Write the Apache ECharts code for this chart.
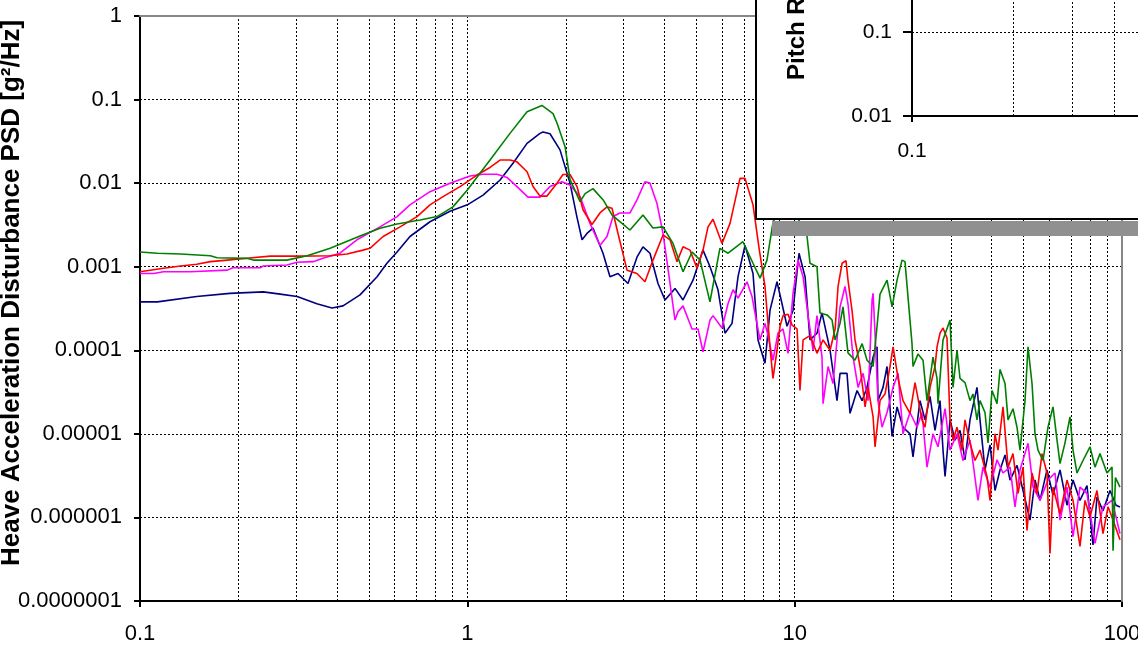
<!DOCTYPE html>
<html>
<head>
<meta charset="utf-8">
<title>Heave acceleration disturbance PSD</title>
<script src="https://cdn.jsdelivr.net/npm/echarts@6/dist/echarts.min.js"></script>
<style>
    html, body { margin: 0; padding: 0; background: #fff; }
    #chart { width: 1138px; height: 645px; }
</style>
</head>
<body>
<div id="chart"></div>
<script>
    "use strict";

    // tick labels (one per decade)
    var xTickLabels = ['0.1', '1', '10', '100'];
    var yTickLabels = ['0.0000001', '0.000001', '0.00001', '0.0001', '0.001', '0.01', '0.1', '1'];
    var insetXTickLabels = ['0.1', '1', '10'];
    var insetYTickLabels = ['0.01', '0.1', '1'];

    // minor vertical grid positions
    var minorGrid = [0.2, 0.3, 0.4, 0.5, 0.6, 0.7, 0.8, 0.9, 2, 3, 4, 5, 6, 7, 8, 9, 20, 30, 40, 50, 60, 70, 80, 90];
    var insetMinorGrid = [0.2, 0.3, 0.4, 0.5, 0.6, 0.7, 0.8, 0.9];

    // [frequency Hz, PSD g^2/Hz]
    var psdNavy = [
        [0.1, 3.8e-4], [0.113, 3.8e-4], [0.149, 4.4e-4], [0.188, 4.8e-4], [0.238, 5.0e-4],
        [0.268, 4.7e-4], [0.302, 4.4e-4], [0.347, 3.6e-4], [0.386, 3.2e-4], [0.417, 3.4e-4],
        [0.47, 4.6e-4], [0.53, 7.6e-4], [0.568, 1.1e-3], [0.61, 1.5e-3], [0.668, 2.3e-3],
        [0.769, 3.45e-3], [0.885, 4.6e-3], [1.0, 5.5e-3], [1.117, 7.2e-3], [1.259, 0.0109],
        [1.379, 0.0173], [1.522, 0.0299], [1.667, 0.0394], [1.703, 0.041], [1.789, 0.039],
        [1.919, 0.025], [2.059, 0.01], [2.163, 3.9e-3], [2.241, 2.1e-3], [2.32, 2.5e-3],
        [2.42, 2.9e-3], [2.597, 1.45e-3], [2.728, 7.6e-4], [2.886, 8.3e-4], [3.096, 6.3e-4],
        [3.298, 1.3e-3], [3.44, 1.73e-3], [3.614, 1.45e-3], [3.824, 6.3e-4], [4.017, 4e-4],
        [4.31, 5.5e-4], [4.56, 4e-4], [4.891, 6.9e-4], [5.248, 1.58e-3], [5.513, 1e-3],
        [5.832, 5.3e-4], [6.126, 1.6e-4], [6.436, 2.1e-4], [6.714, 7.6e-4], [7.052, 1.8e-3],
        [7.46, 8.3e-4], [7.727, 1.33e-4], [8.116, 7e-5], [8.406, 3e-4], [8.831, 6.6e-4],
        [9.148, 3.6e-4], [9.477, 1.94e-4], [9.885, 3e-4], [10.31, 1.45e-3], [10.76, 7.6e-4],
        [11.14, 1.33e-4], [11.7, 1.6e-4], [12.12, 2.8e-4], [12.83, 1e-4], [13.47, 2.5e-5],
        [13.76, 5.3e-5], [14.45, 5.3e-5], [14.76, 1.76e-5], [15.51, 3.3e-5], [16.07, 2.5e-5],
        [16.64, 3.6e-5], [17.36, 8.3e-5], [17.85, 1.1e-4], [17.97, 2.5e-5], [18.62, 3.6e-5],
        [19.15, 6.4e-5], [19.84, 9.3e-6], [20.55, 2.1e-5], [21.43, 1.2e-5], [22.51, 1e-5],
        [22.99, 5.3e-6], [24.15, 2.5e-5], [25.02, 1.47e-5], [25.91, 2.8e-5], [26.84, 1.1e-5],
        [27.8, 2.5e-5], [28.39, 6.4e-6], [28.8, 3.1e-6], [29.83, 1.47e-5], [30.89, 8.4e-6],
        [32.0, 1.1e-5], [33.14, 4.9e-6], [34.33, 1.47e-5], [36.06, 3.6e-5], [36.83, 1.47e-5],
        [38.15, 3.7e-6], [39.52, 7.4e-6], [40.93, 2.1e-6], [42.4, 3.7e-6], [43.92, 5.6e-6],
        [45.49, 2.8e-6], [47.78, 4.2e-6], [49.85, 2.1e-6], [52.36, 9.3e-7], [54.23, 2.8e-6],
        [56.17, 1.6e-6], [59.0, 3.7e-6], [61.55, 1.85e-6], [64.66, 3.7e-6], [67.92, 1.4e-6],
        [70.85, 2.8e-6], [74.41, 1.6e-6], [78.17, 2.4e-6], [81.54, 4.7e-7], [83.87, 1.75e-6],
        [87.5, 1.2e-6], [91.92, 2.1e-6], [95.9, 1.4e-6], [98.6, 1.33e-6]
    ];

    var psdMagenta = [
        [0.1, 8.3e-4], [0.11, 8.3e-4], [0.118, 8.7e-4], [0.142, 8.7e-4], [0.185, 9.1e-4],
        [0.192, 9.7e-4], [0.233, 9.7e-4], [0.238, 1.02e-3], [0.281, 1.05e-3], [0.302, 1.13e-3],
        [0.338, 1.15e-3], [0.362, 1.26e-3], [0.408, 1.45e-3], [0.46, 2.1e-3], [0.541, 3.0e-3],
        [0.61, 3.98e-3], [0.668, 5.5e-3], [0.769, 7.9e-3], [0.885, 0.01], [1.019, 0.0122],
        [1.117, 0.0128], [1.232, 0.0128], [1.322, 0.0117], [1.418, 9.1e-3], [1.532, 6.8e-3],
        [1.667, 6.8e-3], [1.789, 9.1e-3], [1.946, 0.0104], [2.059, 9.5e-3], [2.21, 6.9e-3],
        [2.37, 3.3e-3], [2.542, 1.8e-3], [2.671, 2.3e-3], [2.786, 3.98e-3], [2.927, 4.4e-3],
        [3.14, 4.4e-3], [3.298, 6.3e-3], [3.489, 0.0104], [3.614, 0.01], [3.797, 5.7e-3],
        [3.961, 2.5e-3], [4.161, 6.3e-4], [4.31, 2.3e-4], [4.402, 2.9e-4], [4.56, 3.4e-4],
        [4.857, 1.8e-4], [5.066, 1.8e-4], [5.248, 9.6e-5], [5.513, 2.3e-4], [5.63, 2.6e-4],
        [5.998, 1.85e-4], [6.257, 3.6e-4], [6.481, 5.3e-4], [6.714, 4.2e-4], [7.152, 6.6e-4],
        [7.408, 4.4e-4], [7.565, 2.8e-4], [7.836, 1.33e-4], [8.116, 2.1e-4], [8.289, 1.5e-4],
        [8.586, 7.6e-5], [8.893, 1.6e-4], [9.213, 1.8e-4], [9.544, 9.2e-5], [9.885, 4.8e-4],
        [10.24, 1.2e-3], [10.61, 7.6e-4], [10.99, 2.6e-4], [11.38, 1e-4], [11.7, 2.6e-4],
        [12.12, 8.3e-5], [12.21, 2.3e-5], [12.65, 6.4e-5], [13.1, 4e-5], [13.76, 3.3e-4],
        [14.25, 5.8e-4], [14.55, 3.6e-4], [15.08, 8.3e-5], [15.62, 3.6e-5], [16.18, 5.3e-5],
        [16.76, 2.5e-5], [17.24, 4e-4], [17.36, 4.8e-4], [17.6, 1.6e-4], [17.97, 2.5e-5],
        [18.49, 1.2e-5], [19.15, 1.8e-5], [19.98, 3.6e-5], [20.7, 5.3e-5], [21.43, 1e-5],
        [22.51, 1.8e-5], [23.65, 1.2e-5], [24.49, 1.8e-5], [25.37, 4e-6], [26.46, 1e-5],
        [27.41, 7e-6], [28.8, 2e-5], [29.83, 6.4e-6], [31.33, 1e-5], [32.68, 4.8e-6],
        [34.33, 8.4e-6], [36.31, 1.6e-6], [37.61, 4e-6], [39.52, 2.3e-6], [41.51, 4.9e-6],
        [43.3, 3.4e-6], [45.49, 4e-6], [47.11, 1.34e-6], [48.8, 3.7e-6], [51.63, 7.7e-6],
        [53.48, 2.3e-6], [56.17, 1.6e-6], [59.42, 2.8e-6], [62.42, 3.4e-6], [64.66, 9.3e-7],
        [67.92, 2.3e-6], [70.85, 5.9e-7], [74.41, 2.3e-6], [78.17, 1.94e-6], [82.69, 4.9e-7],
        [87.5, 1.34e-6], [93.22, 1.6e-6], [98.6, 6.4e-7]
    ];

    var psdRed = [
        [0.1, 8.7e-4], [0.118, 9.6e-4], [0.133, 1.02e-3], [0.149, 1.07e-3], [0.164, 1.15e-3],
        [0.185, 1.2e-3], [0.212, 1.26e-3], [0.25, 1.34e-3], [0.302, 1.34e-3], [0.381, 1.35e-3],
        [0.429, 1.42e-3], [0.48, 1.58e-3], [0.504, 1.66e-3], [0.553, 2.3e-3], [0.623, 3.0e-3],
        [0.702, 3.98e-3], [0.769, 5.5e-3], [0.843, 6.9e-3], [0.95, 9.1e-3], [1.07, 0.0125],
        [1.173, 0.0154], [1.259, 0.0189], [1.35, 0.0189], [1.418, 0.018], [1.522, 0.0137],
        [1.587, 9.1e-3], [1.667, 7e-3], [1.751, 7e-3], [1.879, 0.01], [1.96, 0.0127],
        [2.059, 0.0127], [2.163, 9.1e-3], [2.256, 4.8e-3], [2.403, 3.2e-3], [2.542, 4.4e-3],
        [2.671, 5.2e-3], [2.767, 5.0e-3], [2.886, 2.5e-3], [3.075, 9.1e-4], [3.298, 8.3e-4],
        [3.489, 6.6e-4], [3.692, 1.2e-3], [3.961, 2.4e-3], [4.161, 2.1e-3], [4.371, 1.15e-3],
        [4.56, 1.73e-3], [4.789, 1.58e-3], [5.031, 9.6e-4], [5.248, 1.58e-3], [5.436, 3e-3],
        [5.63, 3.7e-3], [5.998, 1.9e-3], [6.346, 3.3e-3], [6.808, 0.0114], [7.052, 0.0114],
        [7.46, 5.5e-3], [7.8, 1.58e-3], [8.116, 5.8e-4], [8.406, 1.1e-4], [8.586, 4.6e-5],
        [8.831, 1e-4], [9.021, 1.94e-4], [9.213, 2.6e-4], [9.544, 2.7e-4], [9.815, 2.0e-4],
        [10.17, 1.8e-4], [10.38, 3.3e-5], [10.61, 1.33e-4], [11.14, 1.5e-4], [11.7, 9.2e-5],
        [12.21, 1.33e-4], [12.83, 1e-4], [13.29, 1.8e-4], [13.57, 5.8e-4], [13.96, 1.1e-3],
        [14.35, 1.18e-3], [14.55, 6.9e-4], [14.97, 3e-4], [15.29, 1.33e-4], [15.84, 6.4e-5],
        [16.41, 2.1e-5], [16.76, 3.6e-5], [17.36, 1.6e-5], [17.6, 7e-6], [18.23, 2.5e-5],
        [18.88, 3e-5], [19.56, 6.4e-5], [19.98, 1.1e-4], [20.7, 4.6e-5], [21.43, 2.5e-5],
        [22.51, 1.76e-5], [23.32, 4.1e-5], [24.49, 1.47e-5], [25.02, 1.2e-5], [25.91, 3.6e-5],
        [26.84, 6.4e-5], [27.22, 1.1e-4], [27.8, 1.6e-4], [28.39, 1.85e-4], [29.2, 1.4e-4],
        [29.83, 1.47e-5], [30.46, 8.4e-6], [31.33, 1.2e-5], [32.45, 6.4e-6], [33.14, 1.47e-5],
        [34.33, 7.8e-6], [35.56, 4.8e-6], [36.83, 6.4e-6], [38.69, 3.1e-6], [39.52, 1.6e-6],
        [40.93, 1e-5], [41.8, 6.4e-6], [43.3, 2.1e-5], [44.86, 4e-6], [46.45, 5.8e-6],
        [48.12, 1.94e-6], [49.85, 4e-6], [51.27, 7e-7], [53.1, 3.4e-6], [55.0, 1.94e-6],
        [56.97, 5.8e-6], [59.0, 3.4e-6], [60.26, 3.7e-7], [61.55, 2.3e-6], [64.66, 1.1e-6],
        [67.92, 2.8e-6], [70.85, 1.6e-6], [74.41, 4.5e-7], [77.08, 1.6e-6], [79.84, 1.02e-6],
        [83.87, 2.1e-6], [87.5, 6.4e-7], [90.63, 1.34e-6], [93.88, 9.3e-7], [98.6, 5.4e-7]
    ];

    var psdGreen = [
        [0.1, 1.5e-3], [0.113, 1.45e-3], [0.133, 1.42e-3], [0.164, 1.35e-3], [0.172, 1.28e-3],
        [0.212, 1.26e-3], [0.222, 1.2e-3], [0.281, 1.2e-3], [0.324, 1.35e-3], [0.381, 1.66e-3],
        [0.47, 2.33e-3], [0.541, 2.88e-3], [0.61, 3.24e-3], [0.717, 3.62e-3], [0.808, 3.98e-3],
        [0.904, 5.2e-3], [1.0, 8.3e-3], [1.173, 0.0189], [1.35, 0.0394], [1.522, 0.0715],
        [1.69, 0.085], [1.827, 0.068], [1.88, 0.052], [1.99, 0.027], [2.06, 0.011],
        [2.21, 6.0e-3], [2.29, 7.5e-3], [2.42, 8.6e-3], [2.60, 6.3e-3], [2.77, 4.15e-3],
        [2.93, 3.45e-3], [3.14, 2.75e-3], [3.44, 4.15e-3], [3.69, 2.9e-3], [3.96, 3.0e-3],
        [4.25, 1.9e-3], [4.56, 8.7e-4], [4.86, 1.5e-3], [5.14, 1.2e-3], [5.51, 3.8e-4],
        [5.91, 1.66e-3], [6.26, 1.45e-3], [6.95, 1.99e-3], [7.46, 1.1e-3], [7.84, 7.3e-4],
        [8.23, 1.2e-3], [8.6, 3.5e-3], [9.2, 5e-3], [10.0, 4.5e-3], [10.91, 2.3e-3],
        [11.14, 1.1e-3], [11.70, 1.0e-3], [11.95, 2.8e-4], [12.56, 2.65e-4], [13.01, 2.3e-4],
        [13.29, 1.33e-4], [13.76, 2.1e-4], [14.05, 3.3e-4], [14.55, 9.3e-5], [15.29, 7.6e-5],
        [16.07, 1.2e-4], [16.64, 7.6e-5], [17.36, 6.4e-5], [17.85, 1.94e-4], [18.23, 4.7e-4],
        [19.15, 6.9e-4], [19.84, 3.3e-4], [20.55, 6.9e-4], [21.28, 1.2e-3], [21.73, 1.15e-3],
        [22.20, 4.3e-4], [22.83, 1.2e-4], [22.99, 6.4e-5], [23.8, 9e-5], [24.67, 7.6e-5],
        [25.37, 2.5e-5], [26.46, 8.3e-5], [27.22, 4.6e-5], [27.41, 2.3e-5], [28.39, 1.33e-4],
        [29.83, 2.3e-4], [30.46, 3.6e-5], [31.33, 1e-4], [32.0, 4.6e-5], [33.14, 4.1e-5],
        [34.33, 2.5e-5], [35.06, 3.0e-5], [36.06, 1.47e-5], [36.83, 2.5e-5], [38.15, 1.8e-5],
        [38.96, 7.8e-6], [40.08, 3.3e-5], [41.51, 2.3e-5], [42.40, 5.9e-5], [43.92, 4.0e-5],
        [44.86, 1.47e-5], [46.45, 2.0e-5], [47.78, 1.2e-5], [48.80, 6.4e-6], [50.55, 2.5e-5],
        [51.63, 1.1e-4], [53.10, 4e-5], [54.23, 1e-5], [55.39, 6.4e-6], [57.37, 4.8e-6],
        [59.42, 1.2e-5], [61.55, 2.1e-5], [63.31, 8.4e-6], [64.66, 4.4e-6], [66.97, 7.8e-6],
        [69.37, 1.6e-5], [70.85, 6.4e-6], [72.87, 3.4e-6], [76.0, 4.8e-6], [79.84, 7e-6],
        [82.69, 4e-6], [85.65, 5.8e-6], [89.99, 3.4e-6], [93.22, 4e-6], [93.88, 4e-7],
        [95.5, 3e-6], [98.6, 2.3e-6]
    ];

    var FONT = 'Arial, "Liberation Sans", sans-serif';
    var dotted = {color: '#000', width: 1, type: [2, 2]};

    function decadeLabel(labels, firstExp) {
        return function (v) {
            return labels[Math.round(Math.log(v) / Math.LN10) - firstExp] || '';
        };
    }

    function psdLine(name, data, color) {
        return {
            name: name,
            type: 'line',
            data: data,
            symbol: 'none',
            showSymbol: false,
            z: 3,
            lineStyle: {color: color, width: 1.6},
            itemStyle: {color: color}
        };
    }

    function gridLines(values, xIdx, yIdx, z) {
        return {
            type: 'line',
            xAxisIndex: xIdx,
            yAxisIndex: yIdx,
            data: [],
            z: z,
            silent: true,
            markLine: {
                z: z,
                silent: true,
                symbol: 'none',
                label: {show: false},
                lineStyle: dotted,
                data: values.map(function (v) { return {xAxis: v}; })
            }
        };
    }

    var chart = echarts.init(document.getElementById('chart'));
    chart.setOption({
        animation: false,
        backgroundColor: '#fff',
        grid: [
            {left: 140, right: 16, top: 16, bottom: 44, outerBoundsMode: 'none', containLabel: false},
            {left: 912, top: -52, width: 672, height: 168, outerBoundsMode: 'none', containLabel: false}
        ],
        xAxis: [
            {
                type: 'log', gridIndex: 0, min: 0.1, max: 100, position: 'bottom',
                axisLine: {lineStyle: {color: '#000', width: 2}},
                axisTick: {length: 6, lineStyle: {color: '#000', width: 2}},
                axisLabel: {formatter: decadeLabel(xTickLabels, -1), fontSize: 22, color: '#000', fontFamily: FONT, margin: 22},
                splitLine: {show: true, lineStyle: dotted}
            },
            {
                type: 'log', gridIndex: 0, min: 0.1, max: 100, position: 'top', z: 1,
                axisLine: {lineStyle: {color: '#888', width: 2}},
                axisTick: {show: false}, axisLabel: {show: false}, splitLine: {show: false}
            },
            {
                type: 'log', gridIndex: 1, min: 0.1, max: 10, z: 60,
                axisLine: {lineStyle: {color: '#000', width: 2}},
                axisTick: {length: 6, lineStyle: {color: '#000', width: 2}},
                axisLabel: {formatter: decadeLabel(insetXTickLabels, -1), fontSize: 21, color: '#000', fontFamily: FONT, margin: 25},
                splitLine: {show: true, lineStyle: dotted}
            }
        ],
        yAxis: [
            {
                type: 'log', gridIndex: 0, min: 1e-7, max: 1, position: 'left',
                axisLine: {lineStyle: {color: '#000', width: 2}},
                axisTick: {length: 6, lineStyle: {color: '#000', width: 2}},
                axisLabel: {formatter: decadeLabel(yTickLabels, -7), fontSize: 22, color: '#000', fontFamily: FONT, margin: 18},
                splitLine: {show: true, lineStyle: dotted}
            },
            {
                type: 'log', gridIndex: 0, min: 1e-7, max: 1, position: 'right', z: 1,
                axisLine: {lineStyle: {color: '#888', width: 2}},
                axisTick: {show: false}, axisLabel: {show: false}, splitLine: {show: false}
            },
            {
                type: 'log', gridIndex: 1, min: 0.01, max: 1, z: 60,
                axisLine: {lineStyle: {color: '#000', width: 2}},
                axisTick: {length: 9, lineStyle: {color: '#000', width: 2}},
                axisLabel: {formatter: decadeLabel(insetYTickLabels, -2), fontSize: 21, color: '#000', fontFamily: FONT, margin: 20},
                splitLine: {show: true, lineStyle: dotted}
            }
        ],
        graphic: [
            {type: 'rect', z: 50, shape: {x: 772, y: 221, width: 400, height: 15}, style: {fill: '#909090'}},
            {type: 'rect', z: 51, shape: {x: 756, y: -20, width: 420, height: 239}, style: {fill: '#fff', stroke: '#000', lineWidth: 2}},
            {
                type: 'text', z: 52, x: 12, y: 566, rotation: Math.PI / 2,
                style: {
                    text: 'Heave Acceleration Disturbance PSD [g\u00b2/Hz]',
                    fill: '#000', fontSize: 26, fontWeight: 'bold', fontFamily: FONT,
                    align: 'left', verticalAlign: 'middle', textAlign: 'left', textVerticalAlign: 'middle'
                }
            },
            {
                type: 'text', z: 62, x: 797, y: 80, rotation: Math.PI / 2,
                style: {
                    text: 'Pitch Rate Disturbance PSD [(deg/s)\u00b2/Hz]',
                    fill: '#000', fontSize: 24, fontWeight: 'bold', fontFamily: FONT,
                    align: 'left', verticalAlign: 'middle', textAlign: 'left', textVerticalAlign: 'middle'
                }
            }
        ],
        series: [
            gridLines(minorGrid, 0, 0, 1),
            psdLine('Navy', psdNavy, '#000080'),
            psdLine('Magenta', psdMagenta, '#ff00ff'),
            psdLine('Red', psdRed, '#ff0000'),
            psdLine('Green', psdGreen, '#008000'),
            gridLines(insetMinorGrid, 2, 2, 60)
        ]
    });

    window.onresize = function () {
        chart.resize();
    };
</script>
</body>
</html>
